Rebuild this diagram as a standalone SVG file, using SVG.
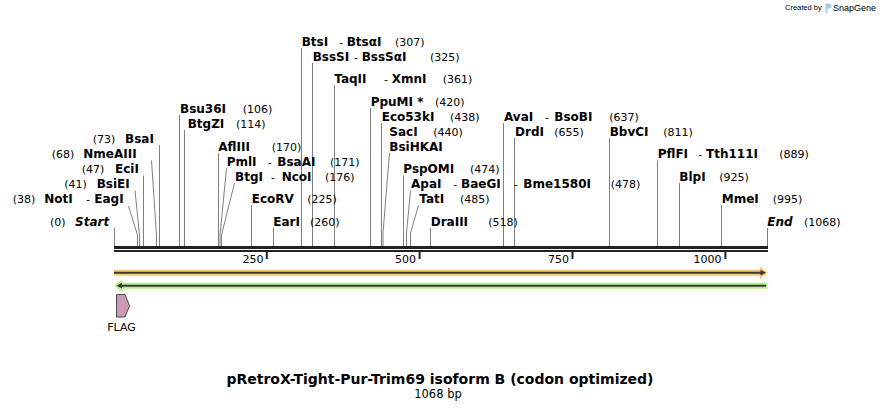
<svg xmlns="http://www.w3.org/2000/svg" width="882" height="409" viewBox="0 0 882 409">
<style>
text{font-family:"DejaVu Sans",Verdana,sans-serif;fill:#000}
.b{font-weight:bold;font-size:12px}
.bi{font-weight:bold;font-style:italic;font-size:12px}
.n{font-size:11px}
.ln{stroke:#7f7f7f;stroke-width:1;fill:none}
.tk{fill:#222}
.wm{font-family:"Liberation Sans",Arial,sans-serif}
</style>
<rect width="882" height="409" fill="#fff"/>
<g id="watermark">
<text class="wm" x="785" y="10" font-size="7.5" fill="#c4c4c4">Created by</text>
<path d="M825.5 3.5h3.5a2.5 2.5 0 0 1 0 5h-1.5v5h-2z" fill="#a9cbee"/>
<text class="wm" x="833" y="10.5" font-size="9" fill="#8d9aab">SnapGene</text>
</g>
<g id="connectors">
<path class="ln" d="M114.5 227.5V246"/>
<path class="ln" d="M128.5 206L137.5 235V246"/>
<path class="ln" d="M135 190.5L139.5 235V246"/>
<path class="ln" d="M143.5 175.5V246"/>
<path class="ln" d="M151.5 160.5L156.5 235V246"/>
<path class="ln" d="M159.5 145V246"/>
<path class="ln" d="M179.5 115V246"/>
<path class="ln" d="M184.5 130V246"/>
<path class="ln" d="M218.5 153V246"/>
<path class="ln" d="M226.5 168.5L220 235V246"/>
<path class="ln" d="M234.5 183L221.5 235V246"/>
<path class="ln" d="M251.5 205V246"/>
<path class="ln" d="M273.5 227.5V246"/>
<path class="ln" d="M301.5 48V246"/>
<path class="ln" d="M312.5 63V246"/>
<path class="ln" d="M334.5 85V246"/>
<path class="ln" d="M370.5 108V246"/>
<path class="ln" d="M381.5 123V246"/>
<path class="ln" d="M389.5 153L383 233V246"/>
<path class="ln" d="M403.5 175.5V246"/>
<path class="ln" d="M410.5 190.5L406.5 233V246"/>
<path class="ln" d="M418.5 205.5L410.5 233V246"/>
<path class="ln" d="M430.5 228V246"/>
<path class="ln" d="M503.5 123V246"/>
<path class="ln" d="M514.5 138V246"/>
<path class="ln" d="M609.5 138V246"/>
<path class="ln" d="M657.5 160.5V246"/>
<path class="ln" d="M679.5 183V246"/>
<path class="ln" d="M721.5 205.5V246"/>
<path class="ln" d="M767.5 228V246"/>
</g>
<g id="sequence">
<rect class="tk" x="114" y="246" width="654" height="3"/>
<rect class="tk" x="114" y="250" width="654" height="2"/>
<rect class="tk" x="265.8" y="252" width="2" height="7"/>
<rect class="tk" x="418.6" y="252" width="2" height="7"/>
<rect class="tk" x="571.5" y="252" width="2" height="7"/>
<rect class="tk" x="724.4" y="252" width="2" height="7"/>
<text class="n" x="263.5" y="262.5" text-anchor="end">250</text>
<text class="n" x="416" y="262.5" text-anchor="end">500</text>
<text class="n" x="569" y="262.5" text-anchor="end">750</text>
<text class="n" x="721.5" y="262.5" text-anchor="end">1000</text>
</g>
<g id="feature-forward">
<path d="M114 269.7H760V266.5L767.5 272.7L760 279V275.7H114Z" fill="#fcc874"/>
<path d="M114 272.7H761" stroke="#3a3a3a" stroke-width="2"/>
<path d="M760.5 269.8L766 272.7L760.5 275.6Z" fill="#3a3a3a"/>
</g>
<g id="feature-reverse">
<path d="M767.5 282.7H122.5V279.5L114 285.7L122.5 292V288.7H767.5Z" fill="#b6f08a"/>
<path d="M121 285.7H766" stroke="#3a3a3a" stroke-width="2"/>
<path d="M122 282.8L116.5 285.7L122 288.6Z" fill="#3a3a3a"/>
</g>
<g id="FLAG">
<path d="M116.5 294.5H125L129.5 305.8L125 317H116.5Z" fill="#cc99b4" stroke="#4a4a4a" stroke-width="1"/>
<text class="n" x="121.5" y="331" text-anchor="middle">FLAG</text>
</g>
<g id="Start"><text y="225.5"><tspan class="n" x="50">(0)</tspan><tspan class="bi" x="75">Start</tspan></text></g>
<g id="NotI"><text y="203"><tspan class="n" x="12.7">(38)</tspan><tspan class="b" x="44.3">NotI</tspan><tspan class="n" x="86">-</tspan><tspan class="b" x="94.3">EagI</tspan></text></g>
<g id="BsiEI"><text y="188"><tspan class="n" x="64.3">(41)</tspan><tspan class="b" x="96.7">BsiEI</tspan></text></g>
<g id="EciI"><text y="173"><tspan class="n" x="81.7">(47)</tspan><tspan class="b" x="115">EciI</tspan></text></g>
<g id="NmeAIII"><text y="158"><tspan class="n" x="51.7">(68)</tspan><tspan class="b" x="83.3">NmeAIII</tspan></text></g>
<g id="BsaI"><text y="143"><tspan class="n" x="92.7">(73)</tspan><tspan class="b" x="125">BsaI</tspan></text></g>
<g id="Bsu36I"><text y="113"><tspan class="b" x="180">Bsu36I</tspan><tspan class="n" x="242.7">(106)</tspan></text></g>
<g id="BtgZI"><text y="128"><tspan class="b" x="187.7">BtgZI</tspan><tspan class="n" x="236">(114)</tspan></text></g>
<g id="AflIII"><text y="150.5"><tspan class="b" x="218.3">AflIII</tspan><tspan class="n" x="271.7">(170)</tspan></text></g>
<g id="PmlI"><text y="165.5"><tspan class="b" x="226.7">PmlI</tspan><tspan class="n" x="267.7">-</tspan><tspan class="b" x="277.3">BsaAI</tspan><tspan class="n" x="330">(171)</tspan></text></g>
<g id="BtgI"><text y="180.5"><tspan class="b" x="235">BtgI</tspan><tspan class="n" x="271">-</tspan><tspan class="b" x="281.7">NcoI</tspan><tspan class="n" x="325">(176)</tspan></text></g>
<g id="EcoRV"><text y="203"><tspan class="b" x="251.7">EcoRV</tspan><tspan class="n" x="307.3">(225)</tspan></text></g>
<g id="EarI"><text y="225.5"><tspan class="b" x="273.3">EarI</tspan><tspan class="n" x="310">(260)</tspan></text></g>
<g id="BtsI"><text y="45.5"><tspan class="b" x="301.7">BtsI</tspan><tspan class="n" x="339.3">-</tspan><tspan class="b" x="346.7">BtsαI</tspan><tspan class="n" x="395">(307)</tspan></text></g>
<g id="BssSI"><text y="60.5"><tspan class="b" x="312.7">BssSI</tspan><tspan class="n" x="354">-</tspan><tspan class="b" x="361.7">BssSαI</tspan><tspan class="n" x="430">(325)</tspan></text></g>
<g id="TaqII"><text y="83"><tspan class="b" x="334.3">TaqII</tspan><tspan class="n" x="384">-</tspan><tspan class="b" x="391.7">XmnI</tspan><tspan class="n" x="442.7">(361)</tspan></text></g>
<g id="PpuMI"><text y="105.5"><tspan class="b" x="370.7">PpuMI *</tspan><tspan class="n" x="435">(420)</tspan></text></g>
<g id="Eco53kI"><text y="120.5"><tspan class="b" x="381.7">Eco53kI</tspan><tspan class="n" x="450">(438)</tspan></text></g>
<g id="SacI"><text y="135.5"><tspan class="b" x="389.3">SacI</tspan><tspan class="n" x="433.3">(440)</tspan></text><text y="150.5"><tspan class="b" x="389.3">BsiHKAI</tspan></text></g>
<g id="PspOMI"><text y="173"><tspan class="b" x="403.3">PspOMI</tspan><tspan class="n" x="470">(474)</tspan></text></g>
<g id="ApaI"><text y="188"><tspan class="b" x="411">ApaI</tspan><tspan class="n" x="453.3">-</tspan><tspan class="b" x="461">BaeGI</tspan><tspan class="n" x="514">-</tspan><tspan class="b" x="523.3">Bme1580I</tspan><tspan class="n" x="610.7">(478)</tspan></text></g>
<g id="TatI"><text y="203"><tspan class="b" x="419.3">TatI</tspan><tspan class="n" x="460">(485)</tspan></text></g>
<g id="DraIII"><text y="225.5"><tspan class="b" x="430.7">DraIII</tspan><tspan class="n" x="488.3">(518)</tspan></text></g>
<g id="AvaI"><text y="120.5"><tspan class="b" x="504">AvaI</tspan><tspan class="n" x="545">-</tspan><tspan class="b" x="554.3">BsoBI</tspan><tspan class="n" x="609.3">(637)</tspan></text></g>
<g id="DrdI"><text y="135.5"><tspan class="b" x="515">DrdI</tspan><tspan class="n" x="554.3">(655)</tspan></text></g>
<g id="BbvCI"><text y="135.5"><tspan class="b" x="609.7">BbvCI</tspan><tspan class="n" x="663.3">(811)</tspan></text></g>
<g id="PflFI"><text y="158"><tspan class="b" x="657.7">PflFI</tspan><tspan class="n" x="698.3">-</tspan><tspan class="b" x="706">Tth111I</tspan><tspan class="n" x="779.3">(889)</tspan></text></g>
<g id="BlpI"><text y="180.5"><tspan class="b" x="679.3">BlpI</tspan><tspan class="n" x="719.3">(925)</tspan></text></g>
<g id="MmeI"><text y="203"><tspan class="b" x="721.7">MmeI</tspan><tspan class="n" x="772.7">(995)</tspan></text></g>
<g id="End"><text y="225.5"><tspan class="bi" x="767.3">End</tspan><tspan class="n" x="804">(1068)</tspan></text></g>
<g id="title">
<text x="440" y="384" text-anchor="middle" font-weight="bold" font-size="14">pRetroX-Tight-Pur-Trim69 isoform B (codon optimized)</text>
<text x="438" y="398" text-anchor="middle" font-size="11.5">1068 bp</text>
</g>
</svg>
